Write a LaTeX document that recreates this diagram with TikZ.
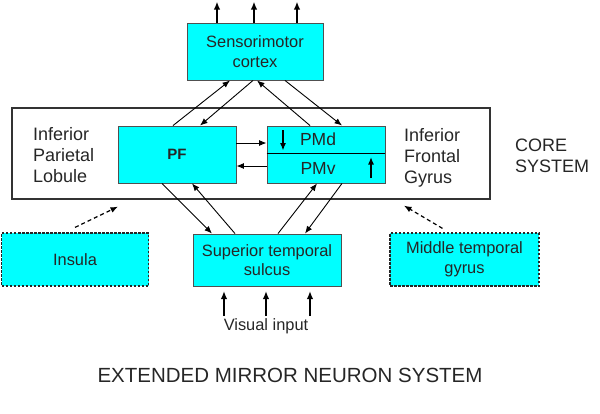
\documentclass[tikz,border=0pt]{standalone}
\usepackage{fontspec}
\setmainfont{Liberation Sans}
\usetikzlibrary{arrows.meta,calc}
\definecolor{boxcyan}{HTML}{00FFFF}
\definecolor{edge}{HTML}{505050}
\tikzset{
  box/.style={draw=edge, line width=0.9pt, fill=boxcyan, inner sep=0pt, align=center,
    font=\fontsize{16.4}{19.5}\selectfont, text=black!85},
  dbox/.style={box, draw=black!85, dash pattern=on 2.5pt off 1.5pt, line width=1.2pt},
  arr/.style={-{Latex[length=7.5pt,width=6pt]}, line width=0.9pt},
  thick arr/.style={-{Latex[length=8pt,width=6.5pt]}, line width=1.8pt},
  darr/.style={-{Latex[length=7.5pt,width=6pt]}, line width=1.2pt, dash pattern=on 4pt off 3pt},
  lbl/.style={align=left, inner sep=0pt, font=\fontsize{18}{21}\selectfont, text=black!85},
}
\begin{document}
\begin{tikzpicture}[x=1pt, y=-1pt]
\useasboundingbox (0,0) rectangle (600,413);
% core system frame
\node[draw=black!80, line width=1.3pt, minimum width=478pt, minimum height=91pt, inner sep=0pt] (core) at (251,153.5) {};
% boxes
\node[box, minimum width=136pt, minimum height=57pt] (smc) at (255,51.5) {Sensorimotor\\cortex};
\node[box, minimum width=118pt, minimum height=57pt, font=\fontsize{15}{18}\selectfont\bfseries] (PF) at (177,154.5) {PF};
\node[box, minimum width=118pt, minimum height=27pt, font=\fontsize{17.5}{20}\selectfont] (PMd) at (326,139.5) {PMd\hspace*{16pt}};
\node[box, minimum width=118pt, minimum height=30pt, font=\fontsize{17.5}{20}\selectfont] (PMv) at (326,168) {PMv\hspace*{16pt}};
\draw[line width=1.2pt, black] (PMd.south west) -- (PMd.south east);
\node[box, minimum width=148pt, minimum height=52pt] (STS) at (267,260) {Superior temporal\\sulcus};
\node[dbox, minimum width=147pt, minimum height=53pt] (ins) at (75,259.5) {Insula};
\node[dbox, minimum width=149pt, minimum height=53pt] (mtg) at (464.5,259.5) {Middle temporal\\gyrus};
% labels
\node[lbl, anchor=west] (ipl) at (33,155) {Inferior\\Parietal\\Lobule};
\node[lbl, anchor=west] (ifg) at (404,158) {Inferior\\Frontal\\Gyrus};
\node[lbl, anchor=west] (cs) at (515,156) {CORE\\SYSTEM};
\node[inner sep=0pt, font=\fontsize{16.4}{19.5}\selectfont, text=black!85] (vi) at (266,326) {Visual input};
\node[inner sep=0pt, font=\fontsize{20.5}{24}\selectfont, text=black!85] (title) at (290,375) {EXTENDED MIRROR NEURON SYSTEM};
% output arrows
\foreach \dx/\n in {-38/a,-1/b,42/c}{
  \coordinate (top\n) at ([xshift=\dx pt]smc.north);
  \coordinate (topend\n) at ($(top\n)+(0,-21)$);
}
\draw[thick arr] (topa) -- (topenda);
\draw[thick arr] (topb) -- (topendb);
\draw[thick arr] (topc) -- (topendc);
% visual input arrows
\foreach \dx/\n in {-42/a,0/b,44/c}{
  \coordinate (vi\n) at ([xshift=\dx pt,yshift=10pt]vi.center);
  \coordinate (vie\n) at ([xshift=\dx pt,yshift=35pt]vi.center);
}
\draw[thick arr] (via) -- (viea);
\draw[thick arr] (vib) -- (vieb);
\draw[thick arr] (vic) -- (viec);
% PF/PM <-> sensorimotor
\draw[arr] ([xshift=-4pt]PF.north) -- ([xshift=-25pt]smc.south);
\draw[arr] ([xshift=-2pt]smc.south) -- ([xshift=23pt]PF.north);
\draw[arr] ([xshift=-16pt]PMd.north) -- ([xshift=2pt]smc.south);
\draw[arr] ([xshift=30pt]smc.south) -- ([xshift=16pt]PMd.north);
% PF/PM <-> STS
\draw[arr] ([xshift=-15pt]PF.south) -- ([xshift=-55pt]STS.north);
\draw[arr] ([xshift=-32pt]STS.north) -- ([xshift=15pt]PF.south);
\draw[arr] ([xshift=11pt]STS.north) -- ([xshift=-9pt]PMv.south);
\draw[arr] ([xshift=16pt]PMv.south) -- ([xshift=38pt]STS.north);
% PF <-> PM
\draw[arr] ([yshift=11.5pt]PF.east) -- ([yshift=-3.5pt]PMd.west);
\draw[arr] ([yshift=2pt]PMv.west) -- ([yshift=-11.5pt]PF.east);
% internal arrows
\coordinate (d1) at ([xshift=-43pt,yshift=9.5pt]PMd.center);
\coordinate (d2) at ([xshift=-43pt,yshift=-11pt]PMd.center);
\draw[arr, line width=1.3pt] (d1) -- (d2);
\coordinate (u1) at ([xshift=45pt,yshift=-10pt]PMv.center);
\coordinate (u2) at ([xshift=45pt,yshift=11pt]PMv.center);
\draw[arr, line width=1.3pt] (u1) -- (u2);
% dashed arrows
\coordinate (insend) at ([xshift=-133pt,yshift=-7pt]core.south);
\coordinate (mtgend) at ([xshift=153pt,yshift=-6pt]core.south);
\draw[darr] ([yshift=5pt]ins.north) -- (insend);
\draw[darr] ([xshift=-22pt,yshift=4pt]mtg.north) -- (mtgend);
\end{tikzpicture}
\end{document}
